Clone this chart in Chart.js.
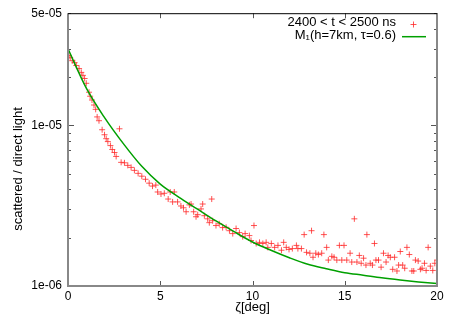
<!DOCTYPE html>
<html><head><meta charset="utf-8">
<script src="https://cdn.jsdelivr.net/npm/chart.js@4/dist/chart.umd.min.js"></script>
<style>html,body{margin:0;padding:0;background:#fff}</style>
</head><body>
<canvas id="c" width="450" height="315"></canvas>
<script>
// measured points: zenith angle [deg]
const zeta = [0.05,0.12,0.23,0.36,0.45,0.6,0.72,0.81,0.9,0.99,1.14,1.2,1.3,1.41,1.5,1.58,1.68,1.85,1.98,2.07,2.16,2.3,2.4,2.52,2.61,2.79,2.88,3.06,3.24,3.42,3.6,3.8,4.0,4.2,4.4,4.58,4.76,4.86,5.04,5.22,5.43,5.54,5.67,5.76,5.94,6.12,6.26,6.4,6.58,6.67,6.81,6.94,7.03,7.21,7.3,7.39,7.57,7.66,7.79,7.84,8.02,8.2,8.38,8.57,8.75,8.93,9.11,9.29,9.47,9.6,9.83,9.92,10.08,10.2,10.38,10.56,10.74,10.83,11.02,11.2,11.38,11.57,11.69,11.83,11.98,12.16,12.38,12.46,12.65,12.8,12.93,13.11,13.2,13.28,13.43,13.57,13.75,13.87,14.02,14.11,14.3,14.42,14.57,14.71,14.84,14.96,15.11,15.29,15.38,15.52,15.66,15.79,15.89,16.02,16.15,16.2,16.38,16.5,16.61,16.69,16.83,16.97,17.1,17.24,17.35,17.47,17.6,17.7,17.83,17.92,18.01,18.14,18.25,18.37,18.5,18.64,18.74,18.83,18.98,19.1,19.19,19.32,19.41,19.52,19.64,19.77,19.88,20.0];
// measured points: scattered / direct light
const ratio = [2.72e-5,2.64e-5,2.53e-5,2.46e-5,2.36e-5,2.26e-5,2.14e-5,2.05e-5,1.96e-5,1.83e-5,1.61e-5,1.52e-5,1.44e-5,1.34e-5,1.26e-5,1.13e-5,1.07e-5,9.4e-6,8.75e-6,8.27e-6,7.93e-6,7.49e-6,7.08e-6,6.78e-6,6.41e-6,9.53e-6,5.89e-6,5.85e-6,5.64e-6,5.48e-6,5.25e-6,5.03e-6,4.83e-6,4.62e-6,4.37e-6,4.19e-6,4.25e-6,3.85e-6,3.74e-6,3.78e-6,3.48e-6,3.85e-6,3.34e-6,3.85e-6,3.34e-6,3.15e-6,3.07e-6,2.90e-6,3.20e-6,3.24e-6,2.90e-6,2.70e-6,2.78e-6,3.02e-6,3.24e-6,2.74e-6,2.62e-6,2.48e-6,3.48e-6,2.55e-6,2.38e-6,2.44e-6,2.31e-6,2.32e-6,2.21e-6,2.12e-6,2.28e-6,2.15e-6,2.03e-6,2.12e-6,2.06e-6,1.92e-6,2.38e-6,1.84e-6,1.87e-6,1.84e-6,1.87e-6,1.74e-6,1.84e-6,1.74e-6,1.79e-6,1.67e-6,1.87e-6,1.74e-6,1.69e-6,1.71e-6,1.79e-6,1.71e-6,1.71e-6,2.09e-6,1.62e-6,1.60e-6,2.21e-6,1.51e-6,1.60e-6,1.57e-6,1.60e-6,2.09e-6,1.74e-6,1.45e-6,1.53e-6,1.51e-6,1.45e-6,1.79e-6,1.45e-6,1.79e-6,1.45e-6,1.60e-6,1.41e-6,2.62e-6,1.41e-6,1.55e-6,1.385e-6,1.49e-6,1.35e-6,2.09e-6,1.385e-6,1.35e-6,1.84e-6,1.45e-6,1.45e-6,1.31e-6,1.60e-6,1.41e-6,1.55e-6,1.51e-6,1.27e-6,1.51e-6,1.24e-6,1.35e-6,1.64e-6,1.35e-6,1.29e-6,1.74e-6,1.57e-6,1.24e-6,1.24e-6,1.45e-6,1.43e-6,1.27e-6,1.29e-6,1.385e-6,1.25e-6,1.74e-6,1.33e-6,1.25e-6,1.385e-6,1.45e-6];
// model curve M1
const modelZeta = [0,1,2,3,4,5,6,7,8,9,10,11,12,13,14,15,16,17,18,19,20];
const modelRatio = [3.00e-5,1.70e-5,1.11e-5,7.70e-6,5.56e-6,4.31e-6,3.58e-6,3.02e-6,2.55e-6,2.18e-6,1.88e-6,1.67e-6,1.50e-6,1.366e-6,1.282e-6,1.211e-6,1.168e-6,1.125e-6,1.09e-6,1.06e-6,1.035e-6];
const seriesLabels = ['2400 < t < 2500 ns', 'M\u2081(h=7km, \u03c4=0.6)'];
const xTitle = '\u03b6[deg]';
const yTitle = 'scattered / direct light';
const xTicks = [0,5,10,15,20];
const yMajor = [1e-6,1e-5];
const yLabelled = [1e-6,1e-5,5e-5];
const yMinor = [2e-6,3e-6,4e-6,5e-6,6e-6,7e-6,8e-6,9e-6,2e-5,3e-5,4e-5];
const yTickLabels = {'1e-6':'1e-06','1e-5':'1e-05','5e-5':'5e-05'};

const FONT = 'Liberation Sans, Arial, sans-serif';
function key(v){ return v.toExponential(0).replace('+',''); }

const frame = {
  id:'frame',
  afterDraw(chart){
    const ctx = chart.ctx, a = chart.chartArea, xs = chart.scales.x, ys = chart.scales.y;
    ctx.save();
    ctx.strokeStyle = '#555'; ctx.lineWidth = 1;
    const allY = yMinor.concat(yMajor).concat([5e-5]);
    allY.forEach(v=>{
      const y = Math.round(ys.getPixelForValue(v))+0.5;
      const len = yMajor.includes(v) ? 6 : 3;
      ctx.beginPath(); ctx.moveTo(a.left, y); ctx.lineTo(a.left+len, y);
      ctx.moveTo(a.right, y); ctx.lineTo(a.right-len, y); ctx.stroke();
    });
    xTicks.forEach(v=>{
      const x = Math.round(xs.getPixelForValue(v))+0.5;
      ctx.beginPath(); ctx.moveTo(x, a.bottom); ctx.lineTo(x, a.bottom-5);
      ctx.moveTo(x, a.top); ctx.lineTo(x, a.top+5); ctx.stroke();
    });
    ctx.strokeStyle = '#888'; ctx.lineWidth = 2;
    ctx.beginPath();
    ctx.moveTo(a.left, a.top); ctx.lineTo(a.left, a.bottom); ctx.lineTo(a.right, a.bottom); ctx.lineTo(a.right, a.top);
    ctx.stroke();
    ctx.strokeStyle = '#000'; ctx.lineWidth = 1;
    ctx.beginPath(); ctx.moveTo(a.left, a.top+0.5); ctx.lineTo(a.right, a.top+0.5); ctx.stroke();
    // y-axis title
    ctx.fillStyle = '#000';
    ctx.font = '13px ' + FONT;
    ctx.save();
    ctx.translate(18, 169); ctx.rotate(-Math.PI/2);
    ctx.textAlign = 'center'; ctx.textBaseline = 'middle';
    ctx.fillText(yTitle, 0, 0);
    ctx.restore();
    // legend
    const ds = chart.data.datasets;
    ctx.textAlign = 'right'; ctx.textBaseline = 'middle';
    const tx = 396, rows = [22, 35.5];
    ctx.fillText(ds[0].label, tx, rows[0]);
    ctx.fillText(ds[1].label, tx, rows[1]);
    ctx.strokeStyle = ds[0].borderColor; ctx.lineWidth = 1;
    ctx.beginPath(); ctx.moveTo(413.5-3, rows[0]+2.5); ctx.lineTo(413.5+3, rows[0]+2.5);
    ctx.moveTo(413.5, rows[0]-0.5); ctx.lineTo(413.5, rows[0]+5.5); ctx.stroke();
    ctx.strokeStyle = ds[1].borderColor; ctx.lineWidth = 1.5;
    ctx.beginPath(); ctx.moveTo(402, rows[1]+1.2); ctx.lineTo(426, rows[1]+1.2); ctx.stroke();
    ctx.restore();
  }
};

new Chart(document.getElementById('c'), {
  type:'scatter',
  data:{
    datasets:[
      { label: seriesLabels[0], data: zeta.map((z,i)=>({x:z,y:ratio[i]})),
        pointStyle:'cross', pointRadius:3, pointBorderWidth:1,
        borderColor:'rgba(255,40,40,0.8)', backgroundColor:'rgba(255,40,40,0.8)', order:2 },
      { label: seriesLabels[1], data: modelZeta.map((z,i)=>({x:z,y:modelRatio[i]})),
        showLine:true, pointRadius:0, borderColor:'#00a000', borderWidth:1.5,
        cubicInterpolationMode:'monotone', fill:false, order:1 }
    ]
  },
  options:{
    responsive:false, animation:false, devicePixelRatio:1,
    layout:{padding:{left:0, right:13, top:10, bottom:0}},
    plugins:{legend:{display:false}, tooltip:{enabled:false}},
    scales:{
      x:{ type:'linear', min:0, max:20,
        afterBuildTicks(s){ s.ticks = xTicks.map(v=>({value:v})); },
        afterFit(s){ s.height = 29; },
        grid:{display:false, drawTicks:false}, border:{display:false},
        ticks:{ padding:3, color:'#000', font:{family:FONT, size:12}, maxRotation:0 },
        title:{ display:true, text:xTitle, color:'#000', font:{family:FONT, size:13}, padding:{top:0,bottom:0} }
      },
      y:{ type:'logarithmic', min:1e-6, max:5e-5,
        afterBuildTicks(s){ s.ticks = yLabelled.map(v=>({value:v})); },
        afterFit(s){ s.width = 68; },
        grid:{display:false, drawTicks:false}, border:{display:false},
        ticks:{ padding:6, color:'#000', font:{family:FONT, size:12}, autoSkip:false,
          callback:(v)=> yTickLabels[key(v)] || '' },
        title:{ display:false }
      }
    }
  },
  plugins:[frame]
});
</script>
</body></html>
